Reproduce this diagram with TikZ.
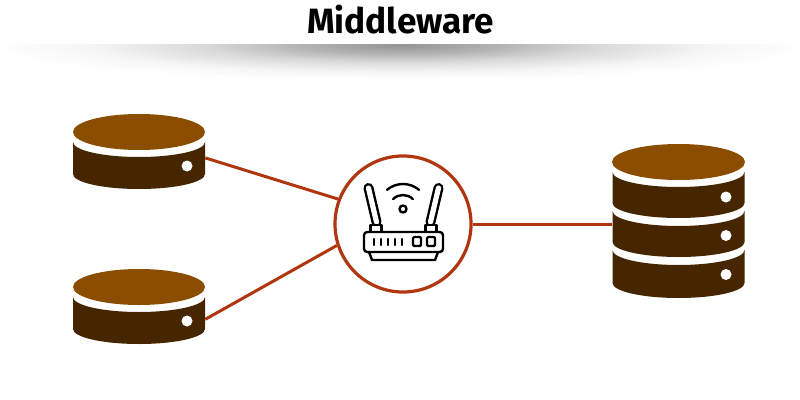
\documentclass[tikz,border=0pt]{standalone}
\usepackage{fontspec}
\setmainfont{Fira Sans}
\usetikzlibrary{
	calc,
	positioning,
}
\definecolor{disktop}{HTML}{8B4E00}
\definecolor{diskbody}{HTML}{452600}
\definecolor{wire}{HTML}{B0360F}
\pgfdeclareradialshading{titleshadow}{\pgfpoint{0bp}{0bp}}{
	color(0bp)=(black!42);
	color(6bp)=(black!30);
	color(12bp)=(black!15);
	color(19bp)=(black!4);
	color(25bp)=(white);
	color(50bp)=(white)
}
\tikzset{hub node/.style={draw=wire,circle,fill=white,line width=.08cm,inner sep=0mm,minimum size=3.4cm,}}
\tikzset{disk node/.style={draw=none,inner sep=0mm,minimum width=3.3cm,}}
\tikzset{wire line/.style={wire,line width=.075cm,}}
\tikzset{icon/.style={black,line width=.06cm,line cap=round,line join=round,}}
\tikzset{
	x=.025cm,
	y=-.025cm,
}
% one slice of a disk: centre x, top of side, bottom of side
\newcommand{\diskslice}[3]{
	\fill[diskbody] (#1-66,#2) arc[start angle=180,end angle=0,x radius=66,y radius=15]
		-- (#1+66,#3) arc[start angle=0,end angle=180,x radius=66,y radius=15] -- cycle;
}
\begin{document}
\begin{tikzpicture}

\useasboundingbox (0,0) rectangle (800,400);

% shadow under the title
\begin{scope}
	\clip (0,45) rectangle (800,90);
	\shade[shading=titleshadow] (400,45) ellipse[x radius=405,y radius=35];
\end{scope}

\node[font=\fontsize{25}{28}\selectfont\bfseries] (title) at(400.5,20){Middleware};

% named places for the wires
\node[disk node,minimum height=1.875cm] (upper) at(139,151.5){};
\node[disk node,minimum height=1.875cm] (lower) at(139,306.5){};
\node[disk node,minimum height=3.85cm] (stack) at(678.5,221){};
\node[hub node] (hub) at(403,224){};

\draw[wire line] ([yshift=-.16cm]upper.east) -- (hub.159);
\draw[wire line] ([yshift=-.32cm]lower.east) -- (hub.198);
\draw[wire line] (hub.east) -- (hub.east -| stack.west);

% small disks
\foreach \y in {132,287}{
	\pgfmathsetmacro{\t}{\y + 10}
	\pgfmathsetmacro{\b}{\y + 42}
	\pgfmathsetmacro{\d}{\y + 34}
	\diskslice{139}{\t}{\b}
	\fill[disktop] (139,\y) ellipse[x radius=66,y radius=18];
	\fill[white] (187,\d) circle[radius=5.5];
}

% large stack
\foreach \t/\b/\d in {172/203/197,211/242/235.5,250/283/274.5}{
	\diskslice{678.5}{\t}{\b}
	\fill[white] (726,\d) circle[radius=5.5];
}
\fill[disktop] (678.5,162) ellipse[x radius=66.5,y radius=18];

% router icon
\foreach \s in {-1,1}{
	\begin{scope}[shift={(403.5,0)},xscale=\s]
		\draw[black,line width=.25cm,line cap=round] (-35,188) -- (-27,222);
		\draw[white,line width=.13cm,line cap=round] (-35,188) -- (-27,222);
		\draw[icon,fill=white] (-33,225) rectangle (-22,232);
	\end{scope}
}
\draw[icon,fill=white,rounded corners=.08cm] (364,232) rectangle (443,252);
\draw[icon] (369,252) -- (372,260) -- (435,260) -- (438,252);
\foreach \x in {374,381,388,395,402}{
	\draw[icon] (\x,239) -- (\x,245);
}
\foreach \x in {417,431}{
	\draw[icon,rounded corners=.03cm] (\x-4,237) rectangle (\x+4,246);
}
\draw[icon] (403,209) circle[radius=3.5];
\draw[icon] (403,209) ++(-135:14) arc[start angle=-135,end angle=-45,radius=14];
\draw[icon] (403,209) ++(-130:25) arc[start angle=-130,end angle=-50,radius=25];

\end{tikzpicture}
\end{document}
